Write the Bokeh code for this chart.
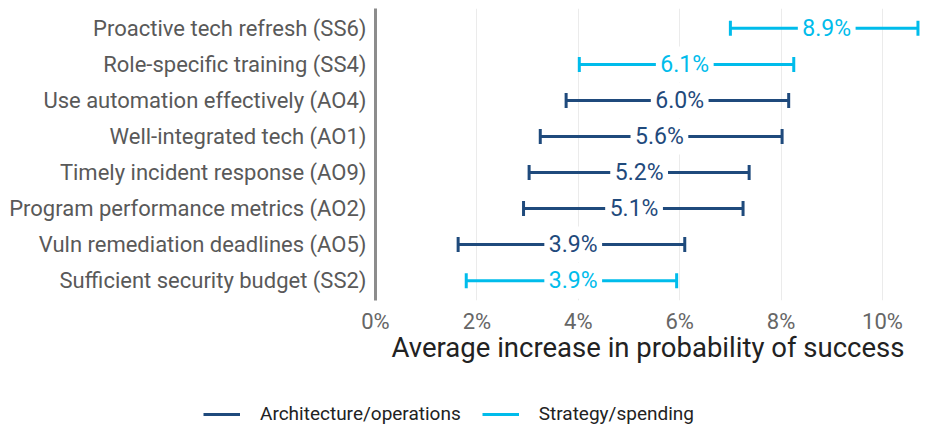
from bokeh.plotting import figure
from bokeh.models import (ColumnDataSource, FactorRange, FixedTicker, LabelSet,
                          Legend, LegendItem, Range1d)
from bokeh.layouts import column
from bokeh.core.properties import value
from bokeh.embed import file_html
from bokeh.resources import INLINE
import numpy as np

# ---- data ----
categories = ["Proactive tech refresh (SS6)", "Role-specific training (SS4)",
              "Use automation effectively (AO4)", "Well-integrated tech (AO1)",
              "Timely incident response (AO9)", "Program performance metrics (AO2)",
              "Vuln remediation deadlines (AO5)", "Sufficient security budget (SS2)"]
groups = ["Strategy/spending", "Strategy/spending", "Architecture/operations",
          "Architecture/operations", "Architecture/operations", "Architecture/operations",
          "Architecture/operations", "Strategy/spending"]
estimate = [8.9, 6.1, 6.0, 5.6, 5.2, 5.1, 3.9, 3.9]
lower = [7.0, 4.02, 3.76, 3.25, 3.03, 2.92, 1.63, 1.79]
upper = [10.7, 8.25, 8.15, 8.02, 7.37, 7.25, 6.10, 5.94]
x_ticks = [0, 2, 4, 6, 8, 10]
x_tick_labels = ["0%", "2%", "4%", "6%", "8%", "10%"]
group_order = ["Architecture/operations", "Strategy/spending"]
group_colors = {"Architecture/operations": "#1F4A7C", "Strategy/spending": "#00BCEB"}

FONT = "Roboto"

p = figure(width=922, height=390, output_backend="svg", toolbar_location=None,
           y_range=FactorRange(factors=categories[::-1], range_padding=0.05,
                               range_padding_units="absolute"),
           x_range=(0, 10.75))
p.frame_align = False
p.min_border_left = 375
p.min_border_top = 8
p.min_border_right = 2
p.min_border_bottom = 90
p.outline_line_color = None
p.background_fill_color = "white"

p.ygrid.grid_line_color = None
p.xgrid.grid_line_color = "#EBEBEB"
p.xgrid.grid_line_width = 1
p.xgrid.ticker = FixedTicker(ticks=x_ticks)

p.xaxis.ticker = FixedTicker(ticks=x_ticks)
p.xaxis.major_label_overrides = {t: l for t, l in zip(x_ticks, x_tick_labels)}
p.xaxis.axis_line_color = None
p.xaxis.major_tick_line_color = None
p.xaxis.minor_tick_line_color = None
p.xaxis.major_label_text_font = FONT
p.xaxis.major_label_text_font_size = "22px"
p.xaxis.major_label_text_color = "#666666"
p.xaxis.major_label_standoff = 2
p.xaxis.axis_label = "Average increase in probability of success"
p.xaxis.axis_label_text_font = FONT
p.xaxis.axis_label_text_font_style = "normal"
p.xaxis.axis_label_text_font_size = "27.5px"
p.xaxis.axis_label_text_color = "#222222"
p.xaxis.axis_label_standoff = -6

p.yaxis.axis_line_color = "#8C8C8C"
p.yaxis.axis_line_width = 3
p.yaxis.major_tick_line_color = None
p.yaxis.minor_tick_line_color = None
p.yaxis.major_label_text_font = FONT
p.yaxis.major_label_text_font_size = "22px"
p.yaxis.major_label_text_color = "#595959"
p.yaxis.major_label_standoff = 3

# legend-only strip below the chart
lg = figure(width=922, height=35, output_backend="svg", toolbar_location=None,
            x_range=Range1d(0, 1), y_range=Range1d(0, 1),
            x_axis_type=None, y_axis_type=None)
lg.frame_align = False
lg.min_border = 0
lg.min_border_left = 0
lg.min_border_right = 0
lg.min_border_top = 0
lg.min_border_bottom = 0
lg.outline_line_color = None
lg.xgrid.visible = False
lg.ygrid.visible = False

legend_items = []
for g in group_order:
    idx = [i for i, gg in enumerate(groups) if gg == g]
    src = ColumnDataSource(dict(
        cat=[categories[i] for i in idx],
        lo=[lower[i] for i in idx],
        hi=[upper[i] for i in idx],
        est=[estimate[i] for i in idx],
        lab=["%.1f%%" % estimate[i] for i in idx],
    ))
    col = group_colors[g]
    p.segment(x0="lo", y0="cat", x1="hi", y1="cat", source=src,
              line_color=col, line_width=3)
    p.scatter(x="lo", y="cat", source=src, marker="dash", angle=np.pi / 2,
              size=15, line_color=col, line_width=3)
    p.scatter(x="hi", y="cat", source=src, marker="dash", angle=np.pi / 2,
              size=15, line_color=col, line_width=3)
    labels = LabelSet(x="est", y="cat", text="lab", source=src,
                      text_align="center", text_baseline="middle",
                      text_font=value(FONT), text_font_size=value("23px"),
                      text_color=value(col),
                      background_fill_color="white", background_fill_alpha=1.0,
                      border_line_color="white", border_line_width=9)
    p.add_layout(labels)
    # legend swatch (NaN data: drawn only in the legend)
    swatch = lg.line(x=[np.nan, np.nan], y=[np.nan, np.nan], line_color=col, line_width=3)
    legend_items.append(LegendItem(label=g, renderers=[swatch]))

legend = Legend(items=legend_items, orientation="horizontal", location=(203, 0))
legend.glyph_width = 37
legend.glyph_height = 20
legend.label_standoff = 20
legend.spacing = 21
legend.padding = 0
legend.margin = 0
legend.border_line_color = None
legend.background_fill_alpha = 0
legend.label_text_font = FONT
legend.label_text_font_size = "19px"
legend.label_text_color = "#222222"
lg.add_layout(legend, "center")

layout = column(p, lg, spacing=0)
open("out.html", "w").write(file_html(layout, INLINE))
